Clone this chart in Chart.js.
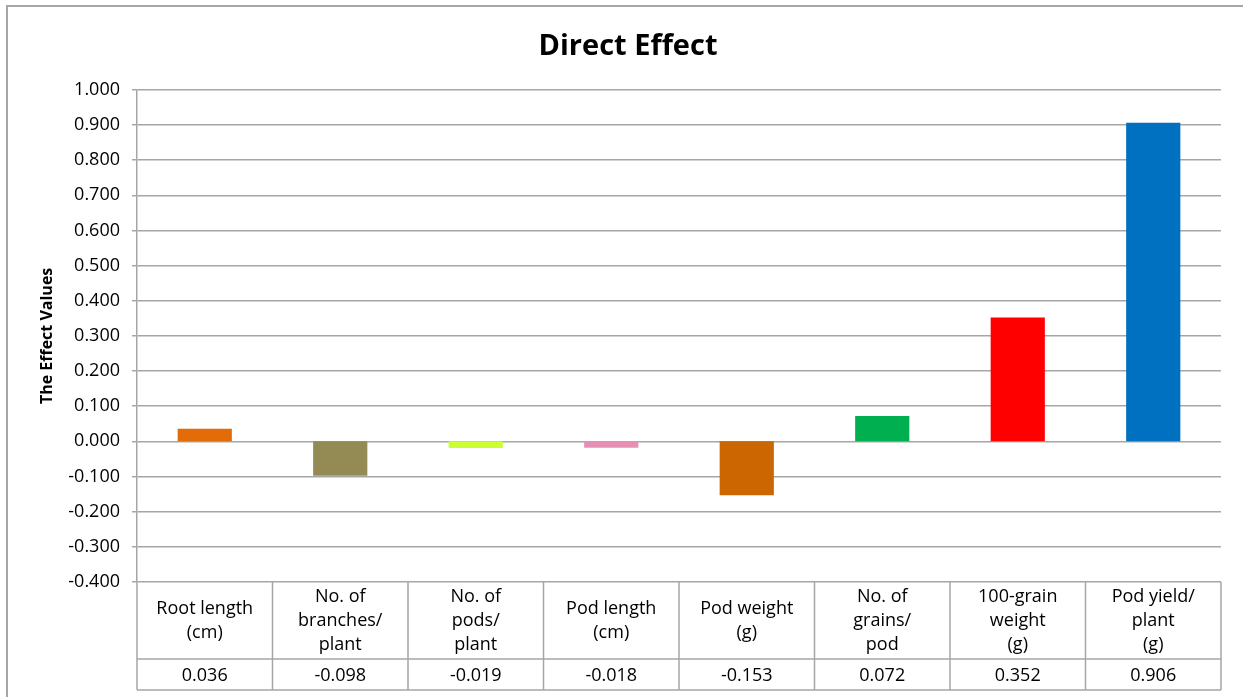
<!DOCTYPE html>
<html>
<head>
<meta charset="utf-8">
<script src="https://cdn.jsdelivr.net/npm/chart.js@4/dist/chart.umd.min.js"></script>
<style>
	body { margin: 0; background: #fff; }
	#frame {
		position: absolute; left: 6px; top: 5px;
		width: 1237px; height: 692px;
		border-left: 2px solid #a6a6a6; border-top: 2px solid #a6a6a6;
	}
	canvas { display: block; }
</style>
</head>
<body>
<div id="frame"><canvas id="directEffect" width="1237" height="692"></canvas></div>
<script>
// traits along the x axis (header row of the table, one line per array item)
const traitLabels = [
	['Root length', '(cm)'],
	['No. of', 'branches/', 'plant'],
	['No. of', 'pods/', 'plant'],
	['Pod length', '(cm)'],
	['Pod weight', '(g)'],
	['No. of', 'grains/', 'pod'],
	['100-grain', 'weight', '(g)'],
	['Pod yield/', 'plant', '(g)'],
]
const directEffect = [0.036, -0.098, -0.019, -0.018, -0.153, 0.072, 0.352, 0.906]
const barColors = ['#e36c09', '#948a54', '#ccff33', '#e68fb5', '#cc6600', '#00b050', '#ff0000', '#0070c0']
const yTicks = { min: -0.4, max: 1.0, step: 0.1 }

const FONT = "'Open Sans', 'Noto Sans', sans-serif"
const GRID = '#a6a6a6'

// draws the data table under the plot, columns taken from the x scale
const dataTable = {
	id: 'dataTable',
	afterDraw(chart) {
		const ctx = chart.ctx
		const x = chart.scales.x
		const area = chart.chartArea
		const n = traitLabels.length
		const colW = (area.right - area.left) / n
		const top = area.bottom
		const mid = top + 77
		const bottom = top + 108

		ctx.save()
		ctx.strokeStyle = GRID
		ctx.lineWidth = 1.5
		ctx.beginPath()
		ctx.moveTo(area.left, mid); ctx.lineTo(area.right, mid)
		ctx.moveTo(area.left, bottom); ctx.lineTo(area.right, bottom)
		for (let i = 0; i <= n; i++) {
			const px = i < n ? x.getPixelForValue(i) - colW / 2 : x.getPixelForValue(n - 1) + colW / 2
			ctx.moveTo(px, top); ctx.lineTo(px, bottom)
		}
		ctx.stroke()

		ctx.fillStyle = '#000'
		ctx.font = '18px ' + FONT
		ctx.textAlign = 'center'
		ctx.textBaseline = 'middle'
		const lineH = 24
		traitLabels.forEach((lines, i) => {
			const cx = x.getPixelForValue(i)
			const y0 = top + 39 - (lines.length - 1) * lineH / 2
			lines.forEach((line, j) => ctx.fillText(line, cx, y0 + j * lineH))
			ctx.fillText(directEffect[i].toFixed(3), cx, top + 94)
		})
		ctx.restore()
	},
}

const ctx = document.getElementById('directEffect').getContext('2d')
new Chart(ctx, {
	type: 'bar',
	data: {
		labels: traitLabels.map((l) => l.join(' ')),
		datasets: [{
			label: 'Direct Effect',
			data: directEffect,
			backgroundColor: barColors,
			borderWidth: 0,
			barPercentage: 0.4,
			categoryPercentage: 1,
		}],
	},
	options: {
		responsive: false,
		animation: false,
		layout: { padding: { left: 27, right: 24, top: 0, bottom: 117 } },
		plugins: {
			legend: { display: false },
			tooltip: { enabled: false },
			title: {
				display: true,
				text: 'Direct Effect',
				color: '#000',
				font: { family: FONT, size: 29, weight: 'bold' },
				padding: { top: 22, bottom: 26 },
			},
		},
		scales: {
			x: { display: false },
			y: {
				min: yTicks.min,
				max: yTicks.max,
				afterFit(scale) { scale.width = 102 },
				ticks: {
					stepSize: yTicks.step,
					color: '#000',
					padding: 12,
					font: { family: FONT, size: 18 },
					callback: (v) => (Math.abs(v) < 1e-9 ? 0 : v).toFixed(3),
				},
				grid: { color: GRID, lineWidth: 1.5, tickLength: 5 },
				border: { color: GRID, width: 1.5 },
				title: {
					display: true,
					text: 'The Effect Values',
					color: '#000',
					font: { family: FONT, size: 16, weight: 'bold' },
					padding: { top: 3, bottom: 0 },
				},
			},
		},
	},
	plugins: [dataTable],
})
</script>
</body>
</html>
